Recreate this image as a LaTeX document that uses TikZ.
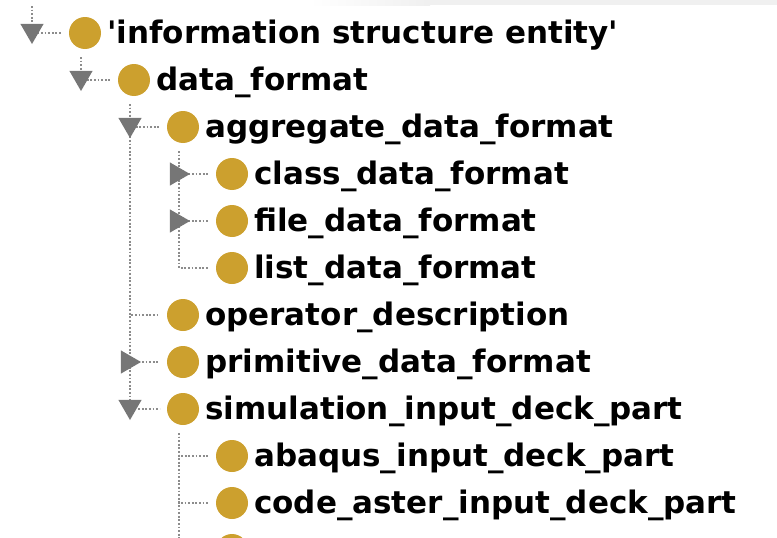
\documentclass[tikz,border=0pt]{standalone}
\usepackage{fontspec}
\setmainfont{DejaVu Sans}
\usetikzlibrary{trees,shapes.geometric}
\definecolor{clsgold}{RGB}{204,160,46}
\definecolor{toggray}{RGB}{118,118,118}
\definecolor{dotgray}{RGB}{140,140,140}
\tikzset{
  cls/.style = {circle, fill=clsgold, minimum size=32pt, inner sep=0pt},
  toggle/.style = {regular polygon, regular polygon sides=3, fill=toggray,
    minimum size=27pt, inner sep=0pt},
  togdown/.style = {toggle, shape border rotate=180},
  togright/.style = {toggle, shape border rotate=270},
  lbl/.style = {anchor=base west, inner sep=0pt,
    font=\bfseries\fontsize{31}{31}\selectfont},
  link/.style = {draw=dotgray, line width=1.8pt, dash pattern=on 1.8pt off 1.8pt}
}

\begin{document}
\begin{tikzpicture}[x=1pt, y=1pt,
  grow via three points={one child at (49,-47) and two children at (49,-47) and (49,-94)},
  edge from parent path={([xshift=-4pt,yshift=-24pt]\tikzparentnode.center)
    |- ([xshift=-7pt]\tikzchildnode.west)},
  edge from parent/.style={link}]
  \clip (0,0) rectangle (777,-538);
  % strip left over from the row above
  \shade[left color=white, right color=black!6] (310,0) rectangle (430,-5);
  \fill[black!6] (430,0) rectangle (777,-5);

  % class hierarchy
  \node[cls] (n0) at (85,-33) {}
    child { node[cls] (n1) {}
      child { node[cls] (n2) {}
        child { node[cls] (n3) {} }
        child { node[cls] (n4) {} }
        child { node[cls] (n5) {} } }
      child [missing] {}
      child [missing] {}
      child [missing] {}
      child { node[cls] (n6) {} }
      child { node[cls] (n7) {} }
      child { node[cls] (n8) {}
        child { node[cls] (n9) {} }
        child { node[cls] (n10) {} }
        child { node[cls] (n11) {} } } };

  \coordinate (top) at (32,-6);
  \draw[link] (top) |- ([xshift=-7pt]n0.west);

  % expand / collapse toggles
  \foreach \i in {0,1,2,8}
    \node[togdown] (g\i) at ([xshift=-53pt,yshift=2.5pt]n\i.center) {};
  \foreach \i in {3,4,7}
    \node[togright] (g\i) at ([xshift=-55.5pt]n\i.center) {};

  % class names
  \foreach \i/\t in {0/{\textquotesingle information structure entity\textquotesingle},
      1/data\_format, 2/aggregate\_data\_format, 3/class\_data\_format,
      4/file\_data\_format, 5/list\_data\_format, 6/operator\_description,
      7/primitive\_data\_format, 8/simulation\_input\_deck\_part,
      9/abaqus\_input\_deck\_part, 10/code\_aster\_input\_deck\_part}
    \node[lbl] (t\i) at ([xshift=22pt,yshift=-10.5pt]n\i.center) {\t};
\end{tikzpicture}
\end{document}
